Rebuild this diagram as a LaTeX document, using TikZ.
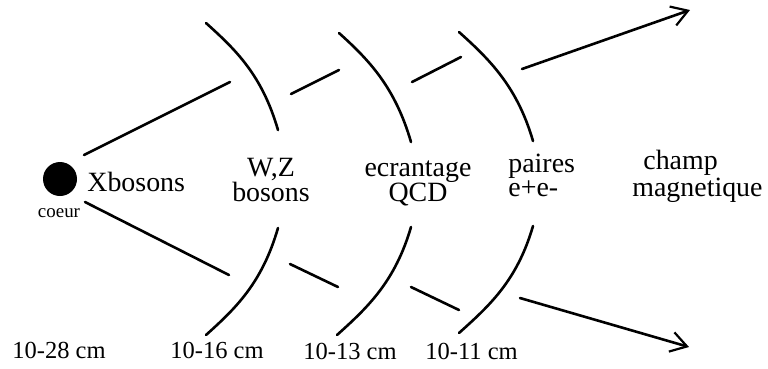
\documentclass[tikz,border=0pt]{standalone}
\usepackage{fontspec}
\setmainfont{Liberation Serif}
\usetikzlibrary{arrows.meta}
\tikzset{
  lyr line/.style={draw=black, line width=1.3bp, line cap=round},
  lyr beam/.style={lyr line, -{Straight Barb[length=8bp,width=10bp,line width=1.1bp]}},
  lyr label/.style={inner sep=0pt, anchor=base, align=center, font=\fontsize{14}{12.5}\selectfont},
  lyr tight/.style={lyr label, align=left, anchor=base west, font=\fontsize{14}{10.2}\selectfont},
  lyr size/.style={inner sep=0pt, anchor=base west, font=\fontsize{12.3}{14}\selectfont},
}

\begin{document}
\begin{tikzpicture}[x=0.5bp,y=-0.5bp]
\useasboundingbox (0,0) rectangle (768,368);
% noyau
\node[circle, fill=black, minimum size=17bp, inner sep=0pt] (core) at (60,179) {};
\node[inner sep=0pt, anchor=base, font=\fontsize{9.5}{11}\selectfont] (coeur) at (59,217) {coeur};
\node[lyr label, anchor=base west] (xb) at (87,191) {Xbosons};
% couches (ancre = ligne du bas)
\node[lyr label] (wz) at (271,201) {W,Z\\bosons};
\node[lyr label] (qcd) at (418,201) {ecrantage\\QCD};
\node[lyr tight] (ee) at (508,196) {paires\\e+e-};
\node[lyr tight] (champ) at (632,196) {\hspace*{5.5bp}champ\\magnetique};
% rayons
\node[lyr size] (r28) at (12,358) {10-28 cm};
\node[lyr size] (r16) at (170,358) {10-16 cm};
\node[lyr size] (r13) at (303,359) {10-13 cm};
\node[lyr size] (r11) at (425,359) {10-11 cm};
% fronts
\draw[lyr line] (206,23) .. controls +(30,27) and +(-16,-55) .. (278,130);
\draw[lyr line] (278,228) .. controls +(-16,55) and +(30,-27) .. (206,335);
\draw[lyr line] (339,33) .. controls +(30,27) and +(-16,-55) .. (411,142);
\draw[lyr line] (411,227) .. controls +(-16,55) and +(30,-27) .. (337,335);
\draw[lyr line] (459,32) .. controls +(30,27) and +(-16,-55) .. (533,141);
\draw[lyr line] (533,226) .. controls +(-16,55) and +(30,-27) .. (459,333);
% jets
\coordinate (tipup) at (690,10);
\coordinate (tipdn) at (689,347);
\draw[lyr line] (84,155) -- (230,82);
\draw[lyr line] (291,94) -- (339,70);
\draw[lyr line] (412,82) -- (461,57);
\draw[lyr beam] (522,69) -- (tipup);
\draw[lyr line] (85,202) -- (229,275);
\draw[lyr line] (290,264) -- (338,287);
\draw[lyr line] (411,287) -- (459,310);
\draw[lyr beam] (520,298) -- (tipdn);
\end{tikzpicture}
\end{document}
